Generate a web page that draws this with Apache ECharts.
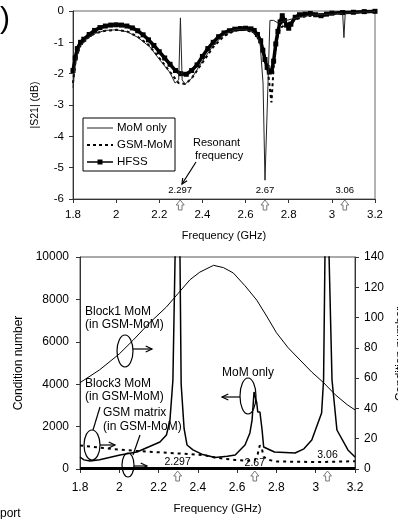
<!DOCTYPE html>
<html><head><meta charset="utf-8">
<script src="https://cdn.jsdelivr.net/npm/echarts/dist/echarts.min.js"></script>
<style>html,body{margin:0;padding:0;background:#fff}#c{width:398px;height:519px}</style>
</head><body><div id="c"></div>
<script>
// ---------- Top chart: |S21| (dB) ----------
const hfssFreq = [1.8,1.81,1.82,1.835,1.85,1.875,1.9,1.925,1.95,1.975,2.0,2.025,2.05,2.075,2.1,2.125,2.15,2.175,2.2,2.225,2.25,2.275,2.3,2.325,2.35,2.375,2.4,2.425,2.45,2.475,2.5,2.525,2.55,2.575,2.6,2.625,2.64,2.655,2.67,2.68,2.69,2.7,2.71,2.72,2.73,2.74,2.75,2.76,2.77,2.78,2.79,2.8,2.81,2.83,2.85,2.875,2.9,2.925,2.95,2.975,3.0,3.05,3.1,3.15,3.2];
const hfssDb   = [-1.9,-1.5,-1.2,-1.0,-0.9,-0.75,-0.62,-0.53,-0.48,-0.45,-0.44,-0.45,-0.48,-0.54,-0.63,-0.76,-0.92,-1.1,-1.3,-1.5,-1.7,-1.9,-2.0,-2.02,-1.9,-1.72,-1.45,-1.2,-1.0,-0.82,-0.7,-0.63,-0.58,-0.56,-0.55,-0.57,-0.62,-0.75,-0.95,-1.25,-1.55,-1.8,-1.95,-1.92,-1.6,-1.05,-0.65,-0.35,-0.15,-0.3,-0.45,-0.55,-0.42,-0.2,-0.12,-0.1,-0.08,-0.12,-0.15,-0.1,-0.07,-0.05,-0.04,-0.02,-0.01];

const momFreq = [1.8,1.81,1.83,1.86,1.9,1.95,2.0,2.05,2.1,2.157,2.2,2.25,2.273,2.29,2.298,2.306,2.32,2.35,2.4,2.45,2.5,2.55,2.6,2.63,2.65,2.667,2.681,2.69,2.704,2.713,2.73,2.75,2.77,2.8,2.85,2.9,2.95,3.0,3.05,3.056,3.062,3.1,3.15,3.2];
const momDb   = [-2.45,-1.7,-1.15,-0.9,-0.72,-0.62,-0.6,-0.66,-0.84,-1.15,-1.54,-1.97,-2.3,-2.2,-0.22,-2.2,-2.33,-2.15,-1.6,-1.1,-0.75,-0.6,-0.58,-0.65,-0.75,-1.0,-2.3,-5.4,-2.3,-0.3,-0.3,-0.38,-0.33,-0.28,-0.2,-0.13,-0.12,-0.1,-0.07,-0.85,-0.07,-0.05,-0.03,-0.02];

const gsmFreq = [1.8,1.81,1.83,1.86,1.9,1.95,2.0,2.05,2.1,2.15,2.2,2.25,2.29,2.32,2.35,2.4,2.45,2.5,2.55,2.6,2.64,2.67,2.69,2.705,2.72,2.73,2.745,2.76,2.78,2.8,2.83,2.87,2.95,3.0,3.1,3.2];
const gsmDb   = [-2.3,-1.7,-1.15,-0.9,-0.72,-0.63,-0.6,-0.65,-0.82,-1.08,-1.5,-1.95,-2.3,-2.33,-2.15,-1.65,-1.15,-0.8,-0.62,-0.6,-0.7,-1.0,-1.45,-2.0,-2.92,-1.8,-0.9,-0.55,-0.45,-0.4,-0.28,-0.18,-0.12,-0.1,-0.05,-0.02];

const legendNames = ['MoM only', 'GSM-MoM', 'HFSS'];
const resonantFreq = [2.297, 2.69, 3.06];
const resonantLabels = ['2.297', '2.67', '3.06'];

// ---------- Bottom chart: condition number ----------
const momCondFreq = [1.8,1.82,1.851,1.9,2.004,2.09,2.207,2.24,2.258,2.273,2.284,2.297,2.309,2.315,2.33,2.345,2.375,2.42,2.487,2.55,2.59,2.64,2.665,2.676,2.686,2.696,2.7,2.705,2.716,2.727,2.735,2.768,2.79,2.895,2.94,2.98,3.03,3.04,3.047,3.058,3.068,3.083,3.108,3.164,3.2];
const momCond     = [566,430,377,440,660,802,1274,1600,2311,4200,10000,30000,10000,4000,1900,1130,900,700,540,600,660,1132,1700,2311,3632,3726,3113,2690,2690,1840,1038,896,800,755,950,1370,2640,4200,10000,30000,10000,4200,1840,900,570];

const block1Freq = [1.8,1.9,2.0,2.07,2.15,2.24,2.3,2.36,2.41,2.48,2.53,2.58,2.64,2.7,2.75,2.8,2.86,2.92,2.98,3.04,3.1,3.16,3.2];
const block1Cond = [57,65.5,76,85,96,107,116,125,130,134.5,133,129.5,121,111.5,101,90,80,72,64,57,49,42.5,39];

const block3Freq = [1.8,1.85,1.92,2.0,2.09,2.26,2.43,2.49,2.59,2.65,2.69,2.705,2.715,2.725,2.735,2.76,2.8,2.9,3.0,3.1,3.2];
const block3Cond = [15.5,14.8,13.8,12.8,11.9,10.6,9.2,7.5,6,5.5,5.8,10,15.5,14,8,6,5,4.8,4.6,4.8,5.2];

const gsmMatFreq = [1.8,2.0,2.2,2.4,2.6,2.8,3.0,3.2];
const gsmMatCond = [0.4,0.4,0.4,0.4,0.4,0.4,0.4,0.4];

const zip = (a, b) => a.map((v, i) => [v, b[i]]);

const FONT = 'Liberation Sans, Arial, sans-serif';
const chart = echarts.init(document.getElementById('c'), null, {renderer: 'canvas'});

const axisCommon = {
  axisLine: {show: true, onZero: false, lineStyle: {color: '#333', width: 1}},
  axisTick: {show: true, length: 4, lineStyle: {color: '#333'}},
  splitLine: {show: false},
  axisLabel: {color: '#000', fontFamily: FONT, fontSize: 11.5}
};
const plain = v => String(v);

const option = {
  animation: false,
  backgroundColor: '#fff',
  grid: [
    {left: 73, top: 11, width: 302, height: 188, show: true, borderColor: '#666', borderWidth: 1},
    {left: 80, top: 257, width: 275, height: 212, show: true, borderColor: '#555', borderWidth: 1}
  ],
  xAxis: [
    Object.assign({}, axisCommon, {gridIndex: 0, type: 'value', min: 1.8, max: 3.2, interval: 0.2,
      name: 'Frequency (GHz)', nameLocation: 'middle', nameGap: 31,
      nameTextStyle: {color: '#000', fontFamily: FONT, fontSize: 11},
      axisLabel: {color: '#000', fontFamily: FONT, fontSize: 11.5, margin: 10}}),
    Object.assign({}, axisCommon, {gridIndex: 1, type: 'value', min: 1.8, max: 3.2, interval: 0.2,
      name: 'Frequency (GHz)', nameLocation: 'middle', nameGap: 34,
      nameTextStyle: {color: '#000', fontFamily: FONT, fontSize: 11.5},
      axisLine: {show: true, onZero: false, lineStyle: {color: '#000', width: 1}},
      axisLabel: {color: '#000', fontFamily: FONT, fontSize: 12, margin: 13}})
  ],
  yAxis: [
    Object.assign({}, axisCommon, {gridIndex: 0, type: 'value', min: -6, max: 0, interval: 1,
      name: '|S21| (dB)', nameLocation: 'middle', nameGap: 32, nameRotate: 90,
      nameTextStyle: {color: '#000', fontFamily: FONT, fontSize: 10.5},
      axisLabel: {color: '#000', fontFamily: FONT, fontSize: 11.5, margin: 9}}),
    Object.assign({}, axisCommon, {gridIndex: 1, type: 'value', min: 0, max: 10000, interval: 2000,
      name: 'Condition number', nameLocation: 'middle', nameGap: 50, nameRotate: 90,
      nameTextStyle: {color: '#000', fontFamily: FONT, fontSize: 12},
      axisLabel: {color: '#000', fontFamily: FONT, fontSize: 12, margin: 11, formatter: plain}}),
    Object.assign({}, axisCommon, {gridIndex: 1, type: 'value', position: 'right', min: 0, max: 140, interval: 20,
      axisLabel: {color: '#000', fontFamily: FONT, fontSize: 12, margin: 9}})
  ],
  series: [
    {name: legendNames[0], type: 'line', xAxisIndex: 0, yAxisIndex: 0, symbol: 'none',
      lineStyle: {color: '#222', width: 1}, data: zip(momFreq, momDb), z: 4},
    {name: legendNames[1], type: 'line', xAxisIndex: 0, yAxisIndex: 0, symbol: 'none',
      lineStyle: {color: '#000', width: 2, type: [3, 3]}, data: zip(gsmFreq, gsmDb), z: 3},
    {name: legendNames[2], type: 'line', xAxisIndex: 0, yAxisIndex: 0, symbol: 'rect', symbolSize: 5, showSymbol: true,
      lineStyle: {color: '#000', width: 3.5}, itemStyle: {color: '#000'}, data: zip(hfssFreq, hfssDb), z: 2},

    {name: 'MoM only (cond)', type: 'line', xAxisIndex: 1, yAxisIndex: 1, symbol: 'none', clip: true,
      lineStyle: {color: '#000', width: 1.5}, data: zip(momCondFreq, momCond)},
    {name: 'Block1 MoM', type: 'line', xAxisIndex: 1, yAxisIndex: 2, symbol: 'none', clip: true,
      lineStyle: {color: '#000', width: 1}, data: zip(block1Freq, block1Cond)},
    {name: 'Block3 MoM', type: 'line', xAxisIndex: 1, yAxisIndex: 2, symbol: 'none', clip: true,
      lineStyle: {color: '#000', width: 2, type: [3, 4]}, data: zip(block3Freq, block3Cond)},
    {name: 'GSM matrix', type: 'line', xAxisIndex: 1, yAxisIndex: 2, symbol: 'none', clip: false,
      lineStyle: {color: '#000', width: 3}, data: zip(gsmMatFreq, gsmMatCond)}
  ]
};
chart.setOption(option);

// ---------- Annotations ----------
function hollowUpArrow(cx, ty) {
  return {type: 'polygon', shape: {points: [[cx, ty], [cx - 4, ty + 5], [cx - 1.8, ty + 5], [cx - 1.8, ty + 10], [cx + 1.8, ty + 10], [cx + 1.8, ty + 5], [cx + 4, ty + 5]]},
    style: {fill: '#fff', stroke: '#777', lineWidth: 1}, z: 20};
}
function arrowLine(x1, y1, x2, y2, head) {
  const ang = Math.atan2(y2 - y1, x2 - x1), h = head || 6;
  const p1 = [x2 - h * Math.cos(ang - 0.45), y2 - h * Math.sin(ang - 0.45)];
  const p2 = [x2 - h * Math.cos(ang + 0.45), y2 - h * Math.sin(ang + 0.45)];
  return [
    {type: 'line', shape: {x1, y1, x2, y2}, style: {stroke: '#000', lineWidth: 1.2}, z: 20},
    {type: 'polyline', shape: {points: [p1, [x2, y2], p2]}, style: {stroke: '#000', lineWidth: 1.2, fill: null}, z: 20}
  ];
}
function txt(x, y, s, size, align) {
  return {type: 'text', x, y, style: {text: s, fill: '#000', font: size + 'px ' + FONT, textAlign: align || 'left', textVerticalAlign: 'middle'}, z: 20};
}
function ellipse(cx, cy, rx, ry) {
  return {type: 'ellipse', shape: {cx, cy, rx, ry}, style: {fill: null, stroke: '#000', lineWidth: 1.2}, z: 20};
}

const g = [];
const topAxisY = chart.convertToPixel({gridIndex: 0}, [1.8, -6])[1];
const botAxisY = chart.convertToPixel({gridIndex: 1}, [1.8, 0])[1];
const topLabelY = [190, 190, 190];
const botLabelY = [462, 463, 455];
resonantFreq.forEach((f, i) => {
  const xt = chart.convertToPixel({xAxisIndex: 0}, f);
  const xb = chart.convertToPixel({xAxisIndex: 1}, f);
  g.push(hollowUpArrow(xt, topAxisY + 1));
  g.push(hollowUpArrow(xb, botAxisY + 2));
  g.push(txt(xt, topLabelY[i], resonantLabels[i], 9.5, 'center'));
  g.push(txt(xb, botLabelY[i], resonantLabels[i], 10.5, 'center'));
});

// manual legend (top chart)
g.push({type: 'rect', shape: {x: 83, y: 118, width: 92, height: 53}, style: {fill: '#fff', stroke: '#000', lineWidth: 1}, z: 18});
const legY = [128, 145, 162];
g.push({type: 'line', shape: {x1: 87, y1: legY[0], x2: 113, y2: legY[0]}, style: {stroke: '#222', lineWidth: 1}, z: 19});
g.push({type: 'line', shape: {x1: 87, y1: legY[1], x2: 113, y2: legY[1]}, style: {stroke: '#000', lineWidth: 2, lineDash: [3, 3]}, z: 19});
g.push({type: 'line', shape: {x1: 87, y1: legY[2], x2: 113, y2: legY[2]}, style: {stroke: '#000', lineWidth: 1.5}, z: 19});
g.push({type: 'rect', shape: {x: 97.5, y: legY[2] - 2.5, width: 5, height: 5}, style: {fill: '#000'}, z: 19});
legendNames.forEach((n, i) => g.push(txt(117, legY[i], n, 11.5)));

g.push(txt(0, 20, ')', 30, 'left'));
g.push(txt(0, 514, 'port', 12, 'left'));

// right axis title (cut off at the page edge, as in the original)
g.push({type: 'text', x: 401, y: 354, rotation: Math.PI / 2,
  style: {text: 'Condition number', fill: '#000', font: '12px ' + FONT, textAlign: 'center', textVerticalAlign: 'middle'}, z: 20});

// top chart: resonant frequency note
g.push(txt(193, 143, 'Resonant', 11));
g.push(txt(195, 156, 'frequency', 11));
g.push(...arrowLine(196, 162, 182, 184, 6));

// bottom chart notes
g.push(txt(85, 312, 'Block1 MoM', 12));
g.push(txt(85, 325, '(in GSM-MoM)', 12));
g.push(ellipse(125, 351, 8, 16));
g.push(...arrowLine(133, 349, 152, 349, 7));

g.push(txt(85, 384, 'Block3 MoM', 12));
g.push(txt(85, 397, '(in GSM-MoM)', 12));
g.push({type: 'line', shape: {x1: 100, y1: 407, x2: 93, y2: 430}, style: {stroke: '#000', lineWidth: 1.2}, z: 20});
g.push(ellipse(92, 445, 8, 15));
g.push(...arrowLine(100, 445, 115, 445, 7));

g.push(txt(103, 413, 'GSM matrix', 12));
g.push(txt(103, 427, '(in GSM-MoM)', 12));
g.push({type: 'line', shape: {x1: 140, y1: 435, x2: 133, y2: 455}, style: {stroke: '#000', lineWidth: 1.2}, z: 20});
g.push(ellipse(128, 465, 6, 12));
g.push(...arrowLine(134, 466, 147, 466, 7));

g.push(txt(248, 373, 'MoM only', 12, 'center'));
g.push(ellipse(248, 396, 8, 18));
g.push(...arrowLine(240, 397, 222, 397, 7));

chart.setOption({graphic: {elements: g}});
</script></body></html>
